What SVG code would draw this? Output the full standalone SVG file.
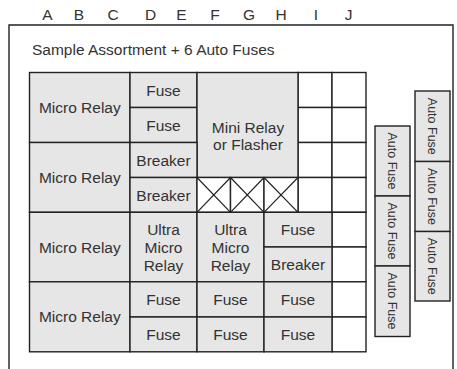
<svg xmlns="http://www.w3.org/2000/svg" width="457" height="369" viewBox="0 0 457 369">
<style>
text{font-family:"Liberation Sans",Arial,sans-serif;font-size:15.5px;fill:#333;text-anchor:middle}
.g{fill:#e6e6e6;stroke:#222;stroke-width:1.4}
.w{fill:#fff;stroke:#222;stroke-width:1.4}
.x{stroke:#222;stroke-width:1.2;fill:none}
.v{font-size:12.5px}
.frame{fill:none;stroke:#222;stroke-width:1.4}
</style>
<rect width="457" height="369" fill="#fff"/>
<g id="frame">
<path class="frame" d="M9,369 V25 H453 V369"/>
</g>
<g id="column-letters">
<text x="47.5" y="20">A</text><text x="79" y="20">B</text><text x="113" y="20">C</text><text x="150.5" y="20">D</text><text x="181.5" y="20">E</text><text x="215" y="20">F</text><text x="249" y="20">G</text><text x="281" y="20">H</text><text x="316" y="20">I</text><text x="348.5" y="20">J</text>
</g>
<g id="title"><text x="32" y="55" style="text-anchor:start">Sample Assortment + 6 Auto Fuses</text></g>
<g id="empty-cells">
<rect class="w" x="298" y="72.5" width="34" height="35"/>
<rect class="w" x="332" y="72.5" width="34" height="35"/>
<rect class="w" x="298" y="107.5" width="34" height="35"/>
<rect class="w" x="332" y="107.5" width="34" height="35"/>
<rect class="w" x="298" y="142.5" width="34" height="35"/>
<rect class="w" x="332" y="142.5" width="34" height="35"/>
<rect class="w" x="298" y="177.5" width="34" height="34.8"/>
<rect class="w" x="332" y="177.5" width="34" height="34.8"/>
<rect class="w" x="332" y="212.3" width="34" height="34.7"/>
<rect class="w" x="332" y="247" width="34" height="34.8"/>
<rect class="w" x="332" y="281.8" width="34" height="35.2"/>
<rect class="w" x="332" y="317" width="34" height="34.8"/>
</g>
<g id="relay-1"><rect class="g" x="29.5" y="72.5" width="100.5" height="70"/><text x="79.8" y="113">Micro Relay</text></g>
<g id="fuse-d1"><rect class="g" x="130" y="72.5" width="67" height="35"/><text x="163.5" y="96">Fuse</text></g>
<g id="fuse-d2"><rect class="g" x="130" y="107.5" width="67" height="35"/><text x="163.5" y="131">Fuse</text></g>
<g id="mini-relay"><rect class="g" x="197" y="72.5" width="101" height="105"/><text x="248" y="133">Mini Relay</text><text x="248" y="149.5">or Flasher</text></g>
<g id="relay-2"><rect class="g" x="29.5" y="142.5" width="100.5" height="69.8"/><text x="79.8" y="183">Micro Relay</text></g>
<g id="breaker-d3"><rect class="g" x="130" y="142.5" width="67" height="35"/><text x="163.5" y="166">Breaker</text></g>
<g id="breaker-d4"><rect class="g" x="130" y="177.5" width="67" height="34.8"/><text x="163.5" y="201">Breaker</text></g>
<g id="blocked-cells">
<rect class="w" x="197" y="177.5" width="33.5" height="34.8"/><path class="x" d="M197,177.5 L230.5,212.3 M230.5,177.5 L197,212.3"/>
<rect class="w" x="230.5" y="177.5" width="33.5" height="34.8"/><path class="x" d="M230.5,177.5 L264,212.3 M264,177.5 L230.5,212.3"/>
<rect class="w" x="264" y="177.5" width="34" height="34.8"/><path class="x" d="M264,177.5 L298,212.3 M298,177.5 L264,212.3"/>
</g>
<g id="relay-3"><rect class="g" x="29.5" y="212.3" width="100.5" height="69.5"/><text x="79.8" y="252.5">Micro Relay</text></g>
<g id="ultra-1"><rect class="g" x="130" y="212.3" width="67" height="69.5"/><text x="163.5" y="234.5">Ultra</text><text x="163.5" y="252.5">Micro</text><text x="163.5" y="270.5">Relay</text></g>
<g id="ultra-2"><rect class="g" x="197" y="212.3" width="67" height="69.5"/><text x="230.5" y="234.5">Ultra</text><text x="230.5" y="252.5">Micro</text><text x="230.5" y="270.5">Relay</text></g>
<g id="fuse-h5"><rect class="g" x="264" y="212.3" width="68" height="34.7"/><text x="298" y="235">Fuse</text></g>
<g id="breaker-h6"><rect class="g" x="264" y="247" width="68" height="34.8"/><text x="298" y="270">Breaker</text></g>
<g id="relay-4"><rect class="g" x="29.5" y="281.8" width="100.5" height="70"/><text x="79.8" y="322">Micro Relay</text></g>
<g id="fuse-d7"><rect class="g" x="130" y="281.8" width="67" height="35.2"/><text x="163.5" y="305">Fuse</text></g>
<g id="fuse-d8"><rect class="g" x="130" y="317" width="67" height="34.8"/><text x="163.5" y="339.5">Fuse</text></g>
<g id="fuse-f7"><rect class="g" x="197" y="281.8" width="67" height="35.2"/><text x="230.5" y="305">Fuse</text></g>
<g id="fuse-f8"><rect class="g" x="197" y="317" width="67" height="34.8"/><text x="230.5" y="339.5">Fuse</text></g>
<g id="fuse-h7"><rect class="g" x="264" y="281.8" width="68" height="35.2"/><text x="298" y="305">Fuse</text></g>
<g id="fuse-h8"><rect class="g" x="264" y="317" width="68" height="34.8"/><text x="298" y="339.5">Fuse</text></g>
<g id="auto-fuse-a1"><rect class="g" x="375" y="126" width="35" height="70"/><text class="v" transform="translate(392.5,161) rotate(90)" y="4.5">Auto Fuse</text></g>
<g id="auto-fuse-a2"><rect class="g" x="375" y="196" width="35" height="70"/><text class="v" transform="translate(392.5,231) rotate(90)" y="4.5">Auto Fuse</text></g>
<g id="auto-fuse-a3"><rect class="g" x="375" y="266" width="35" height="70.5"/><text class="v" transform="translate(392.5,301) rotate(90)" y="4.5">Auto Fuse</text></g>
<g id="auto-fuse-b1"><rect class="g" x="415" y="91" width="35" height="70.5"/><text class="v" transform="translate(432.5,126.3) rotate(90)" y="4.5">Auto Fuse</text></g>
<g id="auto-fuse-b2"><rect class="g" x="415" y="161.5" width="35" height="70"/><text class="v" transform="translate(432.5,196.5) rotate(90)" y="4.5">Auto Fuse</text></g>
<g id="auto-fuse-b3"><rect class="g" x="415" y="231.5" width="35" height="69.5"/><text class="v" transform="translate(432.5,266.3) rotate(90)" y="4.5">Auto Fuse</text></g>
<g id="connectors"/>
</svg>
